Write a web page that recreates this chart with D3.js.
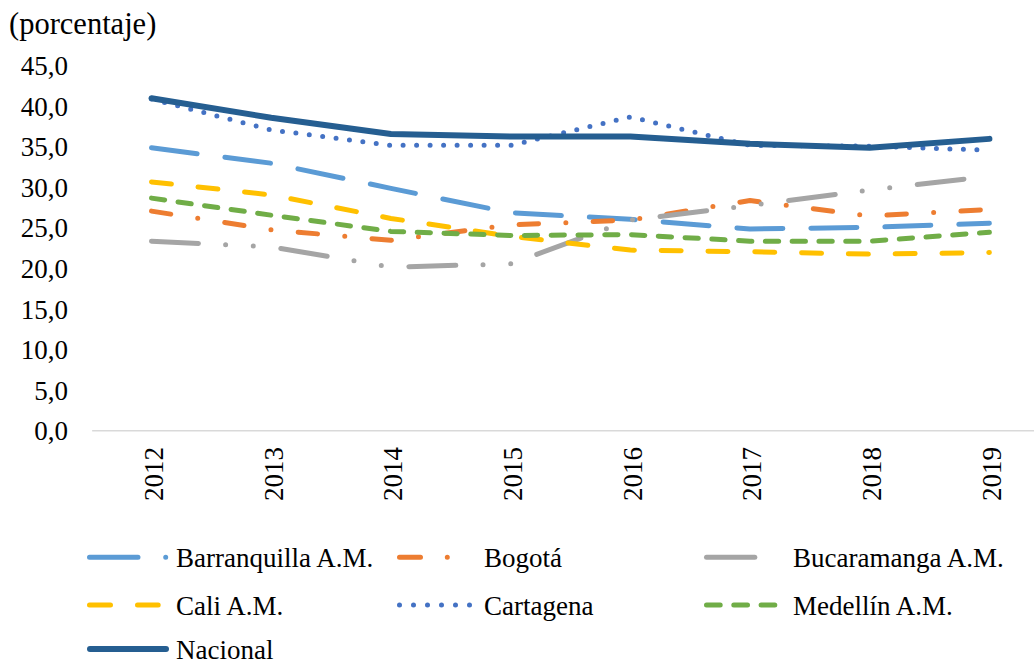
<!DOCTYPE html>
<html>
<head>
<meta charset="utf-8">
<script src="https://cdn.jsdelivr.net/npm/d3@7"></script>
<style>
  html, body { margin: 0; padding: 0; background: #fff; }
  svg { display: block; }
  text { font-family: "Liberation Serif", "Times New Roman", serif; fill: #000; }
</style>
</head>
<body>
<svg id="chart" width="1034" height="665"></svg>
<script>
// ---------- data ----------
const years = ["2012", "2013", "2014", "2015", "2016", "2017", "2018", "2019"];
const yTicks = [0, 5, 10, 15, 20, 25, 30, 35, 40, 45];
const seriesNames = ["Barranquilla A.M.", "Bogotá", "Bucaramanga A.M.", "Cali A.M.", "Cartagena", "Medellín A.M.", "Nacional"];
const barranquilla = [34.8, 32.9, 29.8, 26.8, 26.0, 24.8, 25.0, 25.5];
const bogota       = [27.0, 24.7, 23.4, 25.3, 25.9, 28.3, 26.4, 27.2];
const bucaramanga  = [23.3, 22.6, 20.1, 20.5, 25.9, 27.7, 29.6, 31.3];
const cali         = [30.6, 29.0, 26.1, 23.9, 22.2, 22.0, 21.7, 21.9];
const cartagena    = [40.8, 37.0, 35.1, 35.1, 38.6, 35.1, 35.0, 34.5];
const medellin     = [28.6, 26.5, 24.5, 24.0, 24.1, 23.3, 23.3, 24.4];
const nacional     = [40.9, 38.5, 36.5, 36.2, 36.2, 35.3, 34.8, 35.9];
const seriesValues = [barranquilla, bogota, bucaramanga, cali, cartagena, medellin, nacional];

// ---------- styles ----------
const styles = [
  { color: "#5B9BD5", width: 5, dash: "46,28",               keyDash: "48.5,27.7,0,60", keyLen: 76.5 },
  { color: "#ED7D31", width: 5, dash: "19.5,27.3,0,27.3",    keyDash: "21,26.8,0,40",   keyLen: 50 },
  { color: "#A5A5A5", width: 5, dash: "47,27.2,0,27.7,0,27.7", keyDash: null,           keyLen: 48.3 },
  { color: "#FFC000", width: 5, dash: "20,26.8",             keyDash: "21,27",          keyLen: 68.7 },
  { color: "#4472C4", width: 5, dash: "0,13.5",              keyDash: "0,14",           keyLen: 70.01 },
  { color: "#70AD47", width: 5, dash: "13.3,13.5",           keyDash: "13.7,13.6",      keyLen: 68.3 },
  { color: "#255E91", width: 6, dash: null,                  keyDash: null,             keyLen: 76 }
];

const svg = d3.select("#chart");

const x = d3.scaleBand().domain(years).range([91.65, 1049.25]);
const y = d3.scaleLinear().domain([0, 45]).range([430.3, 65]);
const cx = d => x(d) + x.bandwidth() / 2;

// title
svg.append("text")
  .attr("x", 9).attr("y", 34)
  .style("font-size", "30.5px")
  .text("(porcentaje)");

// y axis
const yAxis = svg.append("g")
  .attr("transform", "translate(68,1)")
  .call(d3.axisLeft(y).tickValues(yTicks).tickSize(0).tickPadding(0)
    .tickFormat(d => d3.format(".1f")(d).replace(".", ",")));
yAxis.select(".domain").remove();
yAxis.selectAll("text")
  .style("font-family", "'Liberation Serif', 'Times New Roman', serif")
  .style("font-size", "27px").attr("fill", "#000");

// x axis
const xAxis = svg.append("g")
  .attr("transform", "translate(0," + y(0) + ")")
  .call(d3.axisBottom(x).tickSize(0).tickFormat(""));
xAxis.select(".domain").attr("stroke", "#D9D9D9").attr("stroke-width", 1.5);
xAxis.selectAll(".tick").remove();

svg.append("g").selectAll("text")
  .data(years)
  .join("text")
  .attr("transform", d => "translate(" + (cx(d) + 2) + ",447) rotate(-90)")
  .attr("text-anchor", "end")
  .attr("dy", "0.35em")
  .style("font-size", "27px")
  .text(d => d);

// lines
const line = d3.line()
  .x((d, i) => cx(years[i]))
  .y(d => y(d));

svg.append("g").selectAll("path")
  .data(seriesValues)
  .join("path")
  .attr("d", d => line(d))
  .attr("fill", "none")
  .attr("stroke", (d, i) => styles[i].color)
  .attr("stroke-width", (d, i) => styles[i].width)
  .attr("stroke-linecap", "round")
  .attr("stroke-linejoin", "round")
  .attr("stroke-dasharray", (d, i) => styles[i].dash);

// legend
const colKeyX = [87, 397, 704];
const colTextX = [176, 484, 793];
const rowY = [557.3, 605, 649];
const legend = svg.append("g");
seriesNames.forEach((name, i) => {
  const col = i % 3, row = Math.floor(i / 3);
  const st = styles[i];
  const x0 = colKeyX[col] + st.width / 2;
  legend.append("path")
    .attr("d", d3.line()([[x0, rowY[row]], [x0 + st.keyLen, rowY[row]]]))
    .attr("fill", "none")
    .attr("stroke", st.color)
    .attr("stroke-width", st.width)
    .attr("stroke-linecap", "round")
    .attr("stroke-dasharray", st.keyDash);
  legend.append("text")
    .attr("x", colTextX[col])
    .attr("y", rowY[row] + 9.5)
    .style("font-size", "27px")
    .text(name);
});
</script>
</body>
</html>
